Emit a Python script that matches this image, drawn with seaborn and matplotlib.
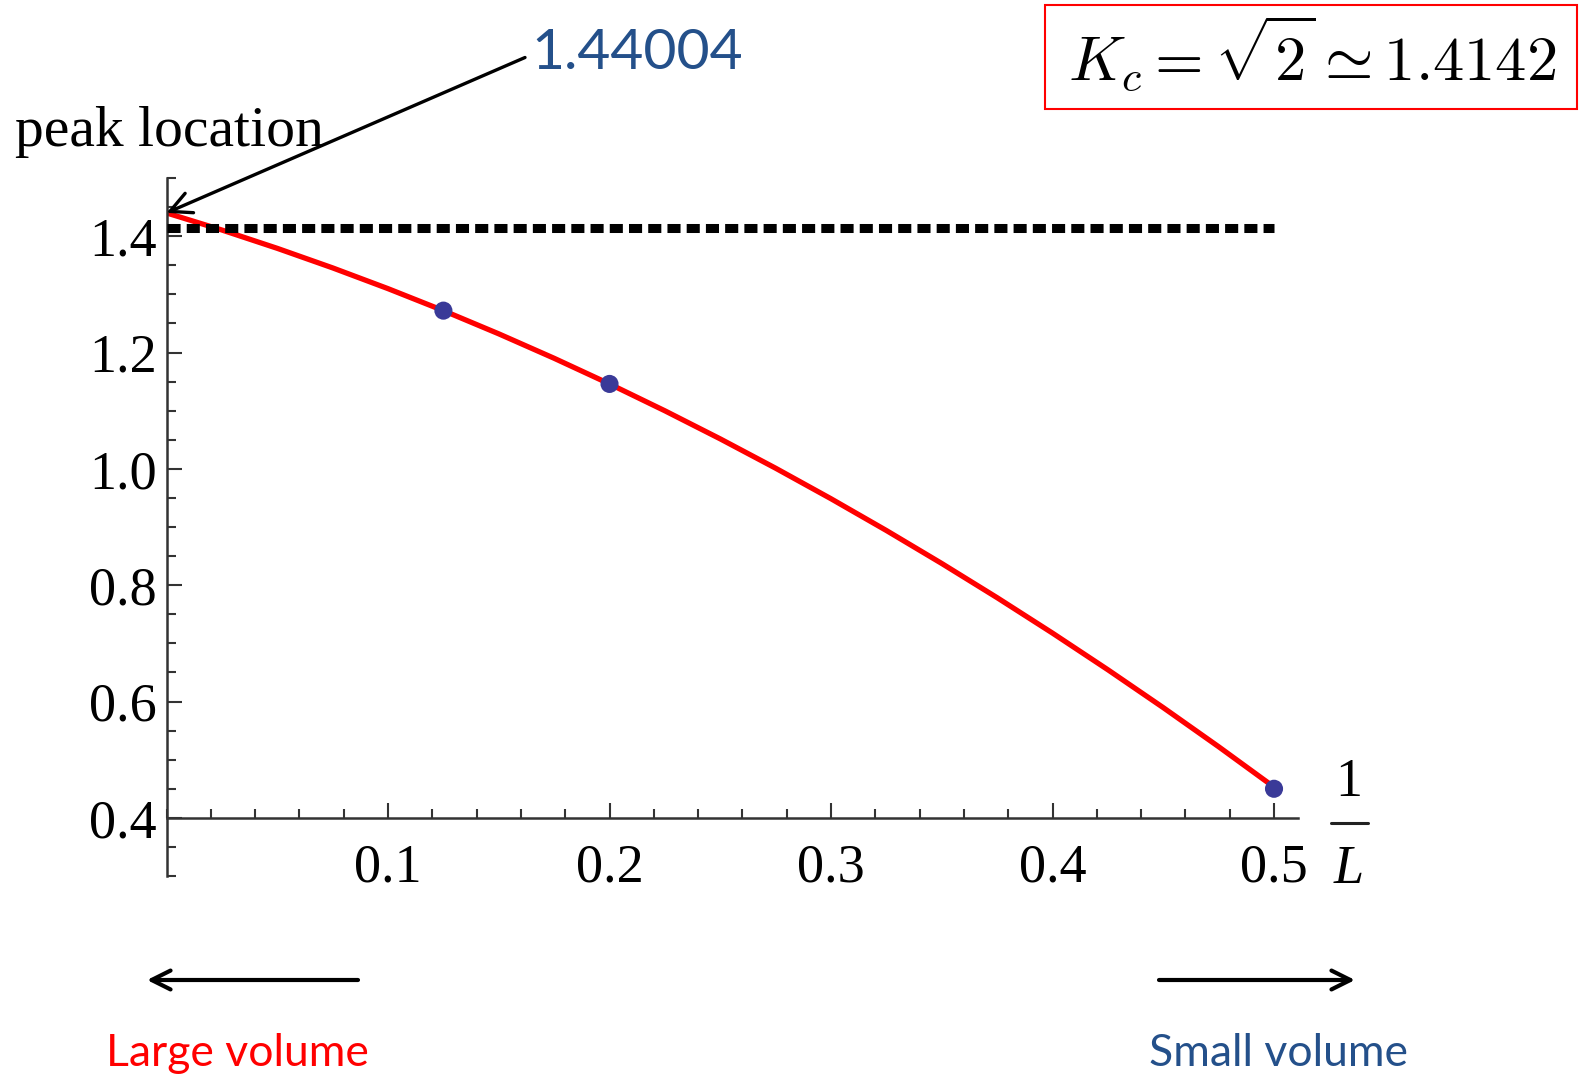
import matplotlib
matplotlib.use("Agg")
import matplotlib.pyplot as plt
from matplotlib.patches import Rectangle
from matplotlib.lines import Line2D
from matplotlib.ticker import MultipleLocator
import seaborn as sns

# fitted curve of the peak location
curve_x = [0.0, 0.025, 0.05, 0.075, 0.1, 0.125, 0.15, 0.175, 0.2, 0.225, 0.25,
           0.275, 0.3, 0.325, 0.35, 0.375, 0.4, 0.425, 0.45, 0.475, 0.5]
curve_y = [1.4400, 1.4106, 1.3791, 1.3455, 1.3098, 1.2720, 1.2321, 1.1901, 1.1460,
           1.0998, 1.0515, 1.0011, 0.9486, 0.8940, 0.8373, 0.7785, 0.7176, 0.6546,
           0.5895, 0.5223, 0.4530]

# measured points (1/L = 1/8, 1/5, 1/2)
point_x = [0.125, 0.2, 0.5]
point_y = [1.272, 1.146, 0.450]

kc_value = 1.4142
kc_span = [0.0, 0.5]
peak_value = 1.44004

x_ticks = [0.1, 0.2, 0.3, 0.4, 0.5]
y_ticks = [0.4, 0.6, 0.8, 1.0, 1.2, 1.4]

sns.set_style("white")
plt.rcParams["mathtext.fontset"] = "cm"
serif = ["Liberation Serif", "DejaVu Serif"]
sans = ["Lato", "DejaVu Sans"]

W, H = 1583, 1075
fig = plt.figure(figsize=(W / 100, H / 100), dpi=100)
ax = fig.add_axes([0.1052, 0.1851, 0.7150, 0.6493])

# curve, points and the sqrt(2) line
sns.lineplot(x=curve_x, y=curve_y, ax=ax, color="#ff0000", lw=3.8, estimator=None)
sns.scatterplot(x=point_x, y=point_y, ax=ax, color="#3a3a98", s=170, edgecolor="none", zorder=5)
ax.hlines(kc_value, kc_span[0], kc_span[1], colors="black", lw=6.5,
          linestyles=(0, (1.45, 0.68)), capstyle="butt", zorder=4)

ax.set_xlim(0, 0.511)
ax.set_ylim(0.3, 1.5)

# Mathematica-like axes crossing at (0, 0.4)
for s in ["top", "right"]:
    ax.spines[s].set_visible(False)
ax.spines["bottom"].set_position(("data", 0.4))
for s in ["bottom", "left"]:
    ax.spines[s].set_color("#333333")
    ax.spines[s].set_linewidth(1.8)

ax.set_xticks(x_ticks)
ax.set_xticklabels([f"{v:.1f}" for v in x_ticks])
ax.set_yticks(y_ticks)
ax.set_yticklabels([f"{v:.1f}" for v in y_ticks])
ax.xaxis.set_minor_locator(MultipleLocator(0.02))
ax.yaxis.set_minor_locator(MultipleLocator(0.05))
ax.tick_params(which="both", direction="in", color="#333333", width=1.5,
               bottom=True, left=True, labelcolor="black")
ax.tick_params(which="major", length=10.5)
ax.tick_params(which="minor", length=6.5)
ax.tick_params(axis="x", which="major", pad=18)
ax.tick_params(axis="y", which="major", pad=7)
for lab in ax.get_xticklabels() + ax.get_yticklabels():
    lab.set_family(serif)
    lab.set_fontsize(39)
ax.set_xlabel("")
ax.set_ylabel("")

# axis titles
fig.text(15 / W, 1 - 146 / H, "peak location", family=serif, fontsize=41.5, va="baseline",
         color="black")
fig.text(1349 / W, 1 - 796 / H, "1", family=serif, fontsize=39, ha="center", va="baseline",
         color="black")
fig.text(1349 / W, 1 - 883 / H, "L", family=serif, style="italic", fontsize=39,
         ha="center", va="baseline", color="black")
fig.add_artist(Line2D([1331 / W, 1368 / W], [1 - 823 / H, 1 - 823 / H],
                      transform=fig.transFigure, color="#222222", lw=2.2))

# peak annotation
fig.text(531 / W, 1 - 69 / H, "1.44004", family=sans, fontsize=41, color="#24508a",
         va="baseline")
ax.annotate("", xy=(0, peak_value), xycoords="data",
            xytext=(525 / W, 1 - 57.5 / H), textcoords="figure fraction",
            arrowprops=dict(arrowstyle="->", lw=2.4, color="black", mutation_scale=38,
                            shrinkA=0, shrinkB=0))

# K_c box
fig.add_artist(Rectangle((1045 / W, 1 - 109 / H), 532 / W, 104 / H,
                         transform=fig.transFigure, fill=False, ec="#ff0000", lw=1.5))
fig.text(1312 / W, 1 - 80 / H, r"$K_c = \sqrt{2} \simeq 1.4142$", fontsize=45,
         ha="center", va="baseline", color="black")

# volume arrows
ax.annotate("", xy=(147 / W, 1 - 980 / H), xycoords="figure fraction",
            xytext=(358 / W, 1 - 980 / H), textcoords="figure fraction",
            arrowprops=dict(arrowstyle="->", lw=3.0, color="black", mutation_scale=34,
                            shrinkA=0, shrinkB=0))
ax.annotate("", xy=(1355 / W, 1 - 980 / H), xycoords="figure fraction",
            xytext=(1159 / W, 1 - 980 / H), textcoords="figure fraction",
            arrowprops=dict(arrowstyle="->", lw=3.0, color="black", mutation_scale=34,
                            shrinkA=0, shrinkB=0))
fig.text(106 / W, 1 - 1066 / H, "Large volume", family=sans, fontsize=32, color="#ff0000",
         va="baseline")
fig.text(1149 / W, 1 - 1066 / H, "Small volume", family=sans, fontsize=32, color="#24508a",
         va="baseline")

fig.savefig("out.png", dpi=100)
